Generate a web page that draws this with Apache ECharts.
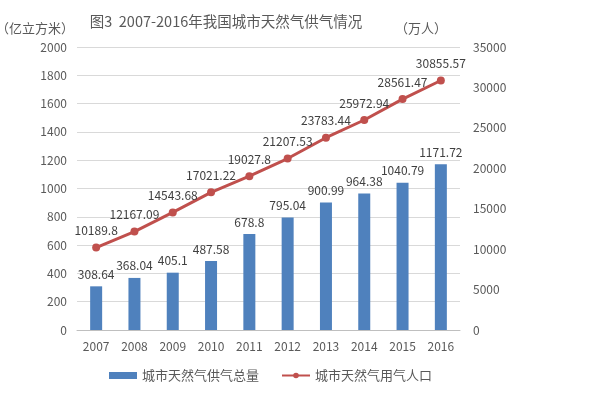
<!DOCTYPE html>
<html>
<head>
<meta charset="utf-8">
<script src="https://cdn.jsdelivr.net/npm/echarts@6/dist/echarts.min.js"></script>
<style>
  html, body { margin: 0; padding: 0; background: #fff; }
  #chart { width: 595px; height: 399px; }
</style>
</head>
<body>
<div id="chart"></div>
<script>
  var years = ['2007', '2008', '2009', '2010', '2011', '2012', '2013', '2014', '2015', '2016'];
  var supplyTotal = [308.64, 368.04, 405.1, 487.58, 678.8, 795.04, 900.99, 964.38, 1040.79, 1171.72];
  var gasPopulation = [10189.8, 12167.09, 14543.68, 17021.22, 19027.8, 21207.53, 23783.44, 25972.94, 28561.47, 30855.57];

  var FONT = '"Noto Sans CJK SC", "Noto Sans", sans-serif';
  var chart = echarts.init(document.getElementById('chart'));

  function plain(v) {
    return String(v);
  }

  chart.setOption({
    animation: false,
    backgroundColor: '#fff',
    textStyle: { fontFamily: FONT },
    title: {
      text: '图3  2007-2016年我国城市天然气供气情况',
      left: 221,
      textAlign: 'center',
      top: 9,
      textStyle: { color: '#595959', fontSize: 14.5, fontWeight: 'normal', fontFamily: FONT }
    },
    legend: {
      bottom: 12,
      left: 104,
      itemGap: 22,
      itemWidth: 28,
      itemHeight: 7,
      textStyle: { color: '#595959', fontSize: 13, fontFamily: FONT },
      data: [
        { name: '城市天然气供气总量', icon: 'rect' },
        { name: '城市天然气用气人口' }
      ]
    },
    grid: { left: 77, right: 135, top: 47, bottom: 69, outerBoundsMode: 'none' },
    xAxis: {
      type: 'category',
      data: years,
      axisLine: { lineStyle: { color: '#BFBFBF' } },
      axisTick: { show: false },
      axisLabel: { color: '#595959', fontSize: 12, margin: 10 }
    },
    yAxis: [
      {
        type: 'value',
        name: '（亿立方米）',
        nameLocation: 'end',
        nameGap: 12,
        nameTextStyle: { color: '#595959', fontSize: 13, align: 'right', padding: [0, 3, 0, 0] },
        min: 0,
        max: 2000,
        interval: 200,
        axisLine: { show: false },
        axisTick: { show: false },
        axisLabel: { color: '#595959', fontSize: 12, margin: 10, formatter: plain },
        splitLine: { lineStyle: { color: '#D9D9D9' } }
      },
      {
        type: 'value',
        name: '（万人）',
        nameLocation: 'end',
        nameGap: 12,
        nameTextStyle: { color: '#595959', fontSize: 13, align: 'right', padding: [0, 13, 0, 0] },
        min: 0,
        max: 35000,
        interval: 5000,
        axisLine: { show: false },
        axisTick: { show: false },
        axisLabel: { color: '#595959', fontSize: 12, margin: 13, formatter: plain },
        splitLine: { show: false }
      }
    ],
    series: [
      {
        name: '城市天然气供气总量',
        type: 'bar',
        yAxisIndex: 0,
        barWidth: 12,
        data: supplyTotal,
        itemStyle: { color: '#4F81BD' },
        label: { show: true, position: 'top', color: '#404040', fontSize: 12, distance: 6 }
      },
      {
        name: '城市天然气用气人口',
        type: 'line',
        yAxisIndex: 1,
        data: gasPopulation,
        symbol: 'circle',
        symbolSize: 8,
        lineStyle: { color: '#C0504D', width: 3 },
        itemStyle: { color: '#C0504D' },
        label: { show: true, position: 'top', color: '#404040', fontSize: 12, distance: 7 }
      }
    ]
  });
</script>
</body>
</html>
